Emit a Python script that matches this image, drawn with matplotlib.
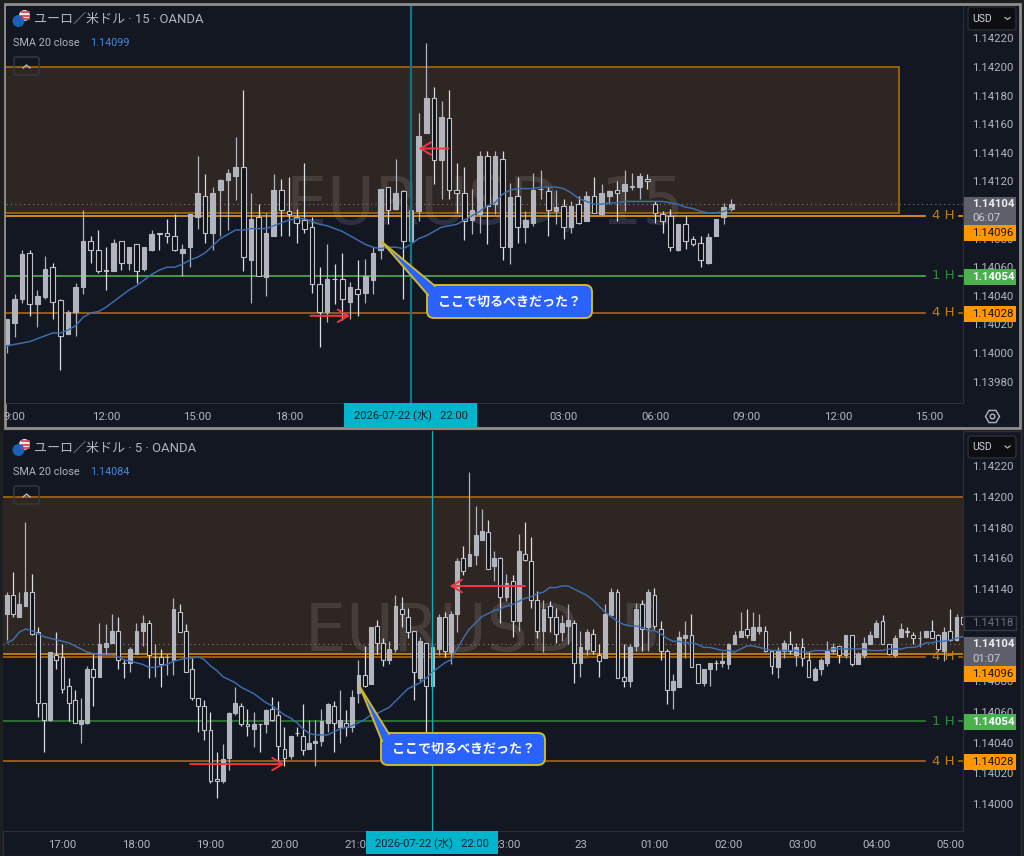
import matplotlib
matplotlib.use("Agg")
import matplotlib.pyplot as plt
from matplotlib.patches import Rectangle, FancyBboxPatch, Polygon, Circle, RegularPolygon
import numpy as np

plt.rcParams['font.family'] = ['Roboto', 'Noto Sans CJK JP', 'DejaVu Sans']

# prices are in units of 0.00001 above 1.14000

# 15 minute chart
o15 = [6,21,38,70,34,39,60,37,13,29,46,78,72,58,57,78,63,76,59,72,84,84,82,70,74,95,110,84,114,121,124,130,65,95,53,82,114,99,95,93,88,48,29,52,
       52,36,45,42,51,72,116,101,113,78,99,154,178,135,164,114,112,93,97,138,104,136,74,110,88,91,115,113,99,103,88,104,92,110,97,110,114,113,116,116,122,104,97,96,72,90,80,77,63,82,95,101]
h15 = [24,41,72,72,44,68,63,38,30,49,100,82,86,74,80,78,74,76,74,86,84,94,97,76,97,138,125,116,122,129,151,184,112,104,98,125,122,123,101,133,95,60,76,62,
       70,50,65,66,74,115,116,136,114,120,168,217,186,176,184,133,130,115,141,141,141,141,119,123,99,126,128,116,114,108,106,110,113,123,118,114,120,128,126,126,125,106,99,101,90,96,82,82,84,94,105,108]
l15 = [0,11,35,26,18,38,24,-12,13,12,41,63,56,44,57,58,58,49,57,71,72,77,71,54,60,87,77,72,82,86,107,57,35,54,40,82,82,82,77,84,42,4,22,34,
       23,24,26,35,41,66,90,100,38,77,92,154,118,108,108,98,79,83,84,76,97,65,62,77,77,89,108,82,90,80,84,90,92,98,96,104,92,99,114,108,115,91,84,71,71,73,75,60,62,82,90,99]
c15 = [24,38,69,34,40,59,36,12,29,46,78,72,57,57,77,63,74,57,74,83,83,82,72,73,97,112,84,112,121,126,130,67,94,54,84,114,100,97,91,87,48,29,52,52,
       38,46,41,54,70,115,100,112,78,100,152,178,135,165,114,112,92,100,138,103,138,74,109,88,93,114,115,100,102,88,103,91,110,98,112,113,112,118,117,124,120,98,92,74,90,78,76,65,81,94,102,104]
sma15 = [5,6,7,8,10,12,14,14,16,19,25,28,29,32,36,40,44,47,51,55,58,60,60,62,65,67,70,75,80,83,86,86,87,87,87,89,91,93,94,94,92,90,89,87,
         85,82,79,76,74,73,74,74,73,76,80,82,85,88,89,90,93,96,99,103,105,111,114,115,115,115,116,116,116,115,112,108,106,104,104,105,105,106,106,106,106,106,106,105,104,102,101,99,98,98,99,101]

# 5 minute chart
o5 = [124,136,122,129,138,112,66,55,97,96,77,68,52,53,88,83,102,105,113,92,92,98,113,118,96,96,96,94,125,113,88,69,64,48,16,15,30,59,64,52,49,52,52,62,58,36,31,46,44,36,40,41,53,64,50,
      53,50,72,84,78,116,105,94,101,127,122,113,82,105,77,101,122,99,124,160,155,162,172,177,155,160,135,145,119,163,158,133,113,129,122,112,116,118,92,101,111,97,95,123,138,83,80,103,130,115,136,114,100,74,76,
      108,110,91,79,88,92,92,91,104,109,114,107,113,113,100,89,100,104,97,102,94,81,88,92,100,103,97,110,91,97,104,109,119,104,97,109,113,110,108,109,113,110,100,113,107,122]
h5 = [138,151,138,184,150,115,66,99,112,104,82,74,69,90,98,118,117,124,122,94,102,118,123,120,104,101,98,134,130,117,95,69,68,60,34,39,60,76,66,62,60,52,62,70,67,50,44,50,65,55,55,62,66,67,74,
      61,74,94,103,115,120,108,106,136,135,128,113,109,105,104,124,125,126,160,168,216,194,192,185,165,161,150,149,176,184,174,139,133,132,128,123,130,120,113,114,114,104,130,141,140,104,104,131,133,140,141,119,101,85,113,
      119,124,91,88,92,94,99,105,113,125,127,125,124,116,100,102,107,113,105,108,99,89,95,106,105,103,110,110,99,109,113,120,123,104,110,118,115,112,113,113,120,111,115,127,124,124]
l5 = [107,122,122,129,110,57,34,54,88,72,54,53,40,52,64,83,98,105,88,82,86,98,103,82,83,76,84,84,112,86,68,47,42,14,4,14,22,58,51,44,37,34,46,54,28,25,29,44,32,36,25,38,47,34,40,
      44,47,66,76,78,98,90,91,99,115,108,68,80,41,74,97,96,91,112,149,155,156,172,153,145,118,132,109,113,158,128,108,99,112,105,106,104,79,83,97,98,83,95,123,82,76,76,100,100,100,114,94,65,62,76,
      95,89,79,77,77,87,89,88,104,109,108,107,111,99,85,82,95,98,90,90,83,80,84,90,98,92,95,90,91,95,104,109,104,97,96,109,109,104,102,108,108,100,93,106,106,116]
c5 = [136,124,130,138,111,66,55,99,94,75,66,53,55,88,83,104,105,113,94,92,101,113,118,97,96,91,96,127,112,86,69,64,48,15,15,29,59,66,52,51,52,52,61,55,38,30,44,46,35,40,41,54,65,53,55,
      50,70,84,77,115,105,94,101,129,124,112,86,106,77,102,122,100,124,158,152,163,175,178,153,160,135,144,119,165,159,133,113,127,122,111,118,120,92,102,112,100,93,124,138,82,80,102,127,114,138,116,100,74,80,109,
      110,89,79,88,92,92,93,104,110,113,110,115,115,100,90,100,105,100,102,95,83,88,94,100,102,97,110,91,98,105,110,118,104,98,108,114,112,108,108,113,108,101,112,107,122,117]
sma5 = [105,107,112,114,113,111,109,108,107,106,105,103,101,99,98,97,97,97,96,94,93,92,91,89,89,90,91,93,94,95,95,96,94,90,87,83,81,79,76,74,72,69,66,64,61,58,56,53,49,46,45,45,45,47,49,
        50,51,53,55,58,59,61,63,67,71,75,77,79,82,86,89,92,94,101,108,114,118,122,124,126,127,129,130,132,134,135,137,138,141,141,142,142,140,138,136,133,129,125,122,119,117,116,116,115,113,113,111,108,106,106,
        105,105,104,102,102,101,100,100,99,101,103,103,102,101,100,100,100,100,100,99,99,100,100,100,101,101,101,101,101,101,100,100,100,101,101,101,102,102,103,105,105,106,106,107,108,109]

ticks15 = [1, 13, 25, 37, 73, 85, 97, 109, 121]
labels15 = ['9:00', '12:00', '15:00', '18:00', '03:00', '06:00', '09:00', '12:00', '15:00']
ticks5 = [9, 21, 33, 45, 57, 81, 93, 105, 117, 129, 141, 153]
labels5 = ['17:00', '18:00', '19:00', '20:00', '21:00', '23:00', '23', '01:00', '02:00', '03:00', '04:00', '05:00']
price_ticks = [13980, 14000, 14020, 14040, 14060, 14080, 14100, 14120, 14140, 14160, 14180, 14200, 14220]
levels = [96, 54, 28]
level_names = ['4 H', '1 H', '4 H']
zone = [98, 200]

BG = '#131722'
TXT = '#b2b5be'
W, H = 1024, 856
fig = plt.figure(figsize=(W / 100, H / 100), dpi=100, facecolor='#1d1e20')


def box(x0, y0, x1, y1):
    return [x0 / W, 1 - y1 / H, (x1 - x0) / W, (y1 - y0) / H]


def price(v):
    return 1.14 + np.array(v) / 1e5


def candles(ax, o, h, l, c, width):
    for i in range(len(o)):
        up = c[i] > o[i] or (c[i] == o[i] and i % 2 == 0)
        wick = TXT if up else '#dcdde2'
        ax.vlines(i, price(l[i]), price(h[i]), color=wick, lw=0.9, zorder=3)
        lo, hi = price(min(o[i], c[i])), price(max(o[i], c[i]))
        ax.bar(i, hi - lo, width, bottom=lo, color=TXT if up else '#0e1015',
               edgecolor=TXT if up else '#bfc1c8', lw=0.8, zorder=4)


def panel(rect, xlim, ylim, o, h, l, c, sma, ticks, labels, width, zone_end, zone_col, lw_cross, cross_col, cross, wm, wm_xy, line_cols, name_cols):
    ax = fig.add_axes(box(*rect), facecolor=BG, zorder=2)
    ax.axhspan(price(zone[0]), price(zone[1]), 0, zone_end, fc='#2e2622', ec='none', zorder=1)
    ax.axhline(price(zone[1]), 0, zone_end, color='#a8690f', lw=1.2, zorder=2)
    ax.axhline(price(zone[0]), 0, zone_end, color=zone_col, lw=1.2, zorder=2)
    if zone_end < 1:
        x_end = xlim[0] + zone_end * (xlim[1] - xlim[0])
        ax.vlines(x_end, price(zone[0]), price(zone[1]), color='#a8690f', lw=1.2, zorder=2)
    ax.text(wm_xy[0], wm_xy[1], wm, transform=ax.transAxes, color='white', alpha=0.11, fontsize=47,
            ha='center', va='center', zorder=1.5, family=['DejaVu Sans'])
    ax.axhline(price(104), color='#787b86', lw=0.8, ls=(0, (1, 3)), zorder=2)
    for v, name, col, ncol in zip(levels, level_names, line_cols, name_cols):
        ax.axhline(price(v), 0, 0.96, color=col, lw=1.2, zorder=2)
        ax.axhline(price(v), 0.996, 1, color=col, lw=1.2, zorder=2)
        ax.text(0.9675, price(v), name, transform=ax.get_yaxis_transform(), color=ncol, fontsize=9.6,
                ha='left', va='center', zorder=6, family=['DejaVu Sans'])
    candles(ax, o, h, l, c, width)
    ax.plot(range(len(sma)), price(sma), color='#3d6fb0', lw=1.05, zorder=5)
    ax.axvline(cross, color=cross_col, lw=lw_cross, zorder=6)
    ax.yaxis.tick_right()
    ax.set_yticks(price(np.array(price_ticks) - 14000))
    ax.set_yticklabels(['1.%05d' % t for t in price_ticks])
    ax.set_xticks(ticks)
    ax.set_xticklabels(labels)
    ax.set_xlim(*xlim)
    ax.set_ylim(*ylim)
    ax.tick_params(axis='y', length=0, pad=6.5, labelsize=8.2, labelcolor=TXT)
    ax.tick_params(axis='x', length=0, pad=6.5, labelsize=8.2, labelcolor=TXT)
    for s in ['top', 'left']:
        ax.spines[s].set_visible(False)
    ax.spines['right'].set_color('#2a2e39')
    ax.spines['bottom'].set_color('#2a2e39')
    return ax


# panel backgrounds sit below the charts
bg = fig.add_axes([0, 0, 1, 1], zorder=0)
bg.set_xlim(0, W)
bg.set_ylim(H, 0)
bg.axis('off')
bg.add_patch(Rectangle((5, 4), 1015, 424, fc=BG, ec='#8e8e8e', lw=2))
bg.add_patch(Rectangle((3, 431), 1018, 425, fc=BG, ec='#2e2f33', lw=1))

n15 = 6.9
s15 = 7.625
n5 = 7.0
s5 = 6.166
line_top = ['#f59a10', '#4caf50', '#a8690f']
line_bot = ['#a8690f', '#2f7d32', '#a8690f']
name_cols = ['#c07d12', '#2f8a3a', '#c07d12']

ax15 = panel((6, 6, 963, 403), ((6 - n15) / s15, (963 - n15) / s15),
             (1.142 - (403 - 67) / 143000, 1.142 + (67 - 6) / 143000),
             o15, h15, l15, c15, sma15, ticks15, labels15, 0.6, 0.933, '#a8690f', 1.6, '#0f7483', 53,
             'EURUSD, 15', (0.5, 0.495), line_top, name_cols)
ax5 = panel((3, 431, 963, 831), ((3 - n5) / s5, (963 - n5) / s5),
            (1.142 - (831 - 497) / 153500, 1.142 + (497 - 431) / 153500),
            o5, h5, l5, c5, sma5, ticks5, labels5, 0.62, 1.0, '#d08a15', 0.9, '#12aebd', 69,
            'EURUSD, 5', (0.5, 0.495), line_bot, name_cols)

# red arrows
arrow = dict(arrowstyle='->,head_length=0.75,head_width=0.45', color='#f23645', lw=1.4, shrinkA=0, shrinkB=0)
ax15.annotate('', xy=(45, price(26)), xytext=(39.8, price(26)), arrowprops=arrow, zorder=7)
ax15.annotate('', xy=(54, price(143)), xytext=(57.9, price(143)), arrowprops=arrow, zorder=7)
ax5.annotate('', xy=(45, price(26)), xytext=(29.7, price(26)), arrowprops=arrow, zorder=7)
ax5.annotate('', xy=(71.8, price(142)), xytext=(84, price(142)), arrowprops=arrow, zorder=7)

# chrome on top, in pixel coordinates
top = fig.add_axes([0, 0, 1, 1], zorder=10)
top.set_xlim(0, W)
top.set_ylim(H, 0)
top.axis('off')
top.patch.set_alpha(0)


def header(dy, title, sma_val):
    top.add_patch(Circle((24.5, 15.5 + dy), 5.5, fc='#e8e8ee', ec='none'))
    for yy in (12, 15.5, 19):
        top.plot([21, 30], [yy + dy, yy + dy], color='#d83a3a', lw=1.2, solid_capstyle='butt')
    top.add_patch(Circle((18.5, 21 + dy), 6, fc='#1c5fb8', ec='none'))
    top.text(34, 19 + dy, title, color=TXT, fontsize=9.4, va='center')
    top.text(13, 42.5 + dy, 'SMA 20 close', color=TXT, fontsize=7.8, va='center')
    top.text(90, 42.5 + dy, sma_val, color='#4a86d8', fontsize=7.8, va='center')
    top.add_patch(FancyBboxPatch((14, 57 + dy), 25, 18, boxstyle='round,pad=0,rounding_size=2', fc='none', ec='#363a45', lw=1))
    top.plot([23, 26.5, 30], [68 + dy, 65 + dy, 68 + dy], color=TXT, lw=1)


def usd(x0, y0, x1, y1):
    top.add_patch(FancyBboxPatch((x0, y0), x1 - x0, y1 - y0, boxstyle='round,pad=0,rounding_size=3', fc='#0c0e12', ec='#2a2e39', lw=1))
    top.text(x0 + 4, (y0 + y1) / 2, 'USD', color='#d1d4dc', fontsize=7.5, va='center')
    cy = (y0 + y1) / 2
    top.plot([x1 - 11, x1 - 8.5, x1 - 6], [cy - 1, cy + 1, cy - 1], color=TXT, lw=0.9)


def tag(y0, y1, lines, fc, ec='none'):
    top.add_patch(Rectangle((964, y0), 52, y1 - y0, fc=fc, ec=ec, lw=1))
    step = (y1 - y0) / len(lines)
    for i, (t, b, col) in enumerate(lines):
        top.text(972, y0 + step * (i + 0.5), t, color=col, fontsize=8.2, va='center', fontweight=b)


def callout(x0, y0, x1, y1, tip, a, b):
    top.add_patch(FancyBboxPatch((x0, y0), x1 - x0, y1 - y0, boxstyle='round,pad=0,rounding_size=7', fc='#2962ff', ec='#cdb92e', lw=1.4))
    top.add_patch(Polygon([tip, a, b], fc='#2962ff', ec='none'))
    top.plot([tip[0], a[0]], [tip[1], a[1]], color='#cdb92e', lw=1.4)
    top.plot([tip[0], b[0]], [tip[1], b[1]], color='#cdb92e', lw=1.4)
    top.text((x0 + x1) / 2, (y0 + y1) / 2, 'ここで切るべきだった？', color='white', fontsize=9.4, fontweight='bold',
             ha='center', va='center', family=['Noto Sans CJK JP', 'DejaVu Sans'])


header(0, 'ユーロ／米ドル · 15 · OANDA', '1.14099')
header(429, 'ユーロ／米ドル · 5 · OANDA', '1.14084')
usd(968, 7, 1016, 30)
usd(968, 436, 1016, 458)

tag(197, 225, [('1.14104', 'bold', '#eeeef0'), ('06:07', 'normal', '#c9cbd1')], '#5d606b')
tag(225, 241, [('1.14096', 'normal', '#1a1206')], '#ff9800')
tag(269, 285, [('1.14054', 'bold', '#ffffff')], '#4caf50')
tag(306, 322, [('1.14028', 'normal', '#1a1206')], '#ff9800')

tag(616, 630, [('1.14118', 'normal', '#6d7079')], '#131722', ec='#363a45')
tag(637, 666, [('1.14104', 'bold', '#eeeef0'), ('01:07', 'normal', '#c9cbd1')], '#5d606b')
tag(666, 682, [('1.14096', 'normal', '#1a1206')], '#ff9800')
tag(714, 730, [('1.14054', 'bold', '#ffffff')], '#4caf50')
tag(754, 770, [('1.14028', 'normal', '#1a1206')], '#ff9800')

callout(427, 285, 592, 318, (382, 242), (435, 286), (428, 295))
callout(381, 733, 545, 765, (360, 687), (389, 734), (382, 741))

# date boxes under the crosshairs
top.add_patch(Rectangle((344, 403), 133, 24, fc='#00b4cc', ec='none'))
top.text(410.5, 415.5, '2026-07-22 (水)   22:00', color='#10222a', fontsize=8, ha='center', va='center')
top.add_patch(Rectangle((366, 831), 132, 23, fc='#00b4cc', ec='none'))
top.text(432, 843.5, '2026-07-22 (水)   22:00', color='#10222a', fontsize=8, ha='center', va='center')

# settings icon
top.add_patch(RegularPolygon((992.5, 416.5), 6, radius=7, orientation=np.pi / 2, fc='none', ec=TXT, lw=1))
top.add_patch(Circle((992.5, 416.5), 2.3, fc='none', ec=TXT, lw=1))

fig.savefig('out.png', dpi=100, facecolor=fig.get_facecolor())
